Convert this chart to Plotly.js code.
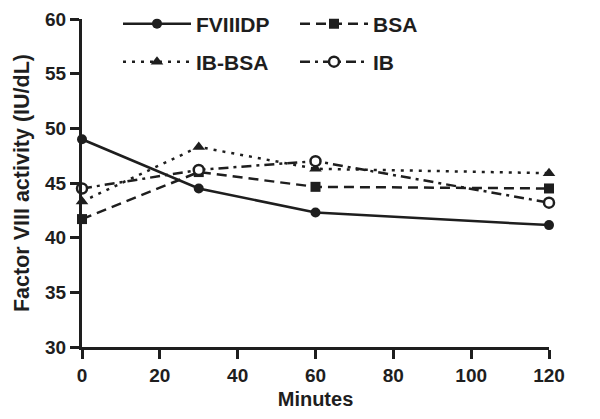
<!DOCTYPE html>
<html>
<head>
<meta charset="utf-8">
<script src="https://cdn.plot.ly/plotly-3.0.1.min.js"></script>
<style>html,body{margin:0;padding:0;background:#fff;}#chart{width:600px;height:419px;}</style>
</head>
<body>
<div id="chart"></div>
<script>
const minutes = [0, 30, 60, 120];
const fviiidp = [49.0, 44.5, 42.3, 41.15];
const bsa = [41.7, 46.0, 44.65, 44.5];
const ibBsa = [43.3, 48.3, 46.3, 45.9];
const ib = [44.5, 46.2, 47.0, 43.2];
const xTicks = [0, 20, 40, 60, 80, 100, 120];
const yTicks = [30, 35, 40, 45, 50, 55, 60];

const ink = '#1e1e1e';
const fontFam = 'Liberation Sans, Arial, sans-serif';

const traces = [
  {name: 'FVIIIDP', y: fviiidp, legend: 'legend', dash: 'solid', symbol: 'circle', mcolor: ink},
  {name: 'BSA', y: bsa, legend: 'legend2', dash: '10px,6px', symbol: 'square', mcolor: ink},
  {name: 'IB-BSA', y: ibBsa, legend: 'legend3', dash: '3px,6px', symbol: 'triangle-up', mcolor: ink},
  {name: 'IB', y: ib, legend: 'legend4', dash: '10px,5px,3px,5px', symbol: 'circle', mcolor: '#ffffff'}
].map(t => ({
  type: 'scatter', mode: 'lines+markers', x: minutes, y: t.y, name: t.name, legend: t.legend,
  cliponaxis: false,
  line: {color: ink, width: 2.5, dash: t.dash},
  marker: {symbol: t.symbol, size: t.symbol === 'triangle-up' ? 11 : 10, color: t.mcolor,
           line: {color: ink, width: t.mcolor === '#ffffff' ? 2.5 : 0}}
}));

const L = 82, R = 51, T = 19, B = 72, W = 600, H = 419;
const pw = W - L - R, ph = H - T - B;
const px = v => (v - L) / pw;
const py = v => (H - B - v) / ph;
function leg(x, y) {
  return {x: px(x), y: py(y), xanchor: 'left', yanchor: 'middle', bgcolor: 'rgba(0,0,0,0)',
          borderwidth: 0, itemwidth: 68, font: {family: fontFam, size: 21, color: ink, weight: 'bold'}};
}

const layout = {
  width: W, height: H,
  margin: {l: L, r: R, t: T, b: B, autoexpand: false},
  paper_bgcolor: '#fff', plot_bgcolor: '#fff',
  showlegend: true,
  font: {family: fontFam, color: ink, weight: 'bold'},
  xaxis: {
    range: [0, 120], tickvals: xTicks, ticktext: xTicks.map(String),
    showgrid: false, zeroline: false, showline: true, linecolor: ink, linewidth: 3,
    ticks: 'outside', ticklen: 9, tickwidth: 3, tickcolor: ink,
    tickfont: {family: fontFam, size: 19, color: ink, weight: 'bold'},
    title: {text: 'Minutes', font: {family: fontFam, size: 20, color: ink, weight: 'bold'}, standoff: 8}
  },
  yaxis: {
    range: [30, 60], tickvals: yTicks, ticktext: yTicks.map(String),
    showgrid: false, zeroline: false, showline: true, linecolor: ink, linewidth: 3,
    ticks: 'outside', ticklen: 9, tickwidth: 3, tickcolor: ink,
    tickfont: {family: fontFam, size: 19, color: ink, weight: 'bold'},
    title: {text: 'Factor VIII activity (IU/dL)', font: {family: fontFam, size: 21.5, color: ink, weight: 'bold'}, standoff: 10}
  },
  legend: leg(118, 24),
  legend2: leg(295, 24),
  legend3: leg(118, 62),
  legend4: leg(295, 62)
};

Plotly.newPlot('chart', traces, layout, {displayModeBar: false, staticPlot: true});
</script>
</body>
</html>
